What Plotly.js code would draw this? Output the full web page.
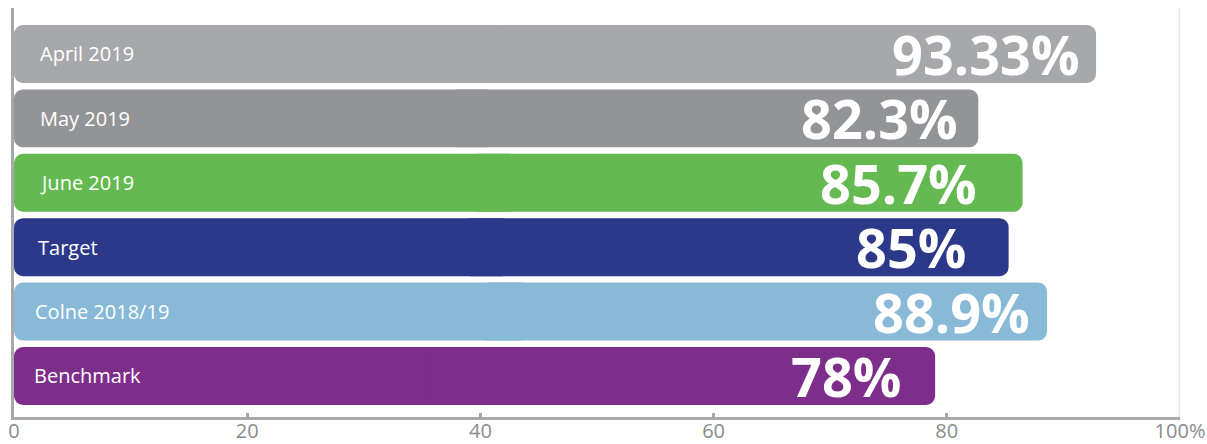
<!DOCTYPE html>
<html>
<head>
<meta charset="utf-8">
<script src="https://cdn.plot.ly/plotly-3.0.1.min.js"></script>
<style>
html,body{margin:0;padding:0;background:#fff;}
#chart{width:1207px;height:444px;}
</style>
</head>
<body>
<div id="chart"></div>
<script>
// ---- data ----
const categories = ["April 2019", "May 2019", "June 2019", "Target", "Colne 2018/19", "Benchmark"];
const barValues = [92.8, 82.7, 86.5, 85.3, 88.6, 79.0];        // bar lengths as drawn
const valueLabels = ["93.33%", "82.3%", "85.7%", "85%", "88.9%", "78%"];
const tickValues = [0, 20, 40, 60, 80, 100];
const tickLabels = ["0", "20", "40", "60", "80", "100%"];

// ---- styles ----
const barColors = ["#a7a8ab", "#939497", "#64b951", "#2c388a", "#88b9d7", "#7d2d8a"];
const valueShift = [-14, -18, -44, -41, -15, -32];
const nameShift = [24, 24, 24, 22, 19, 18];

// left half (rounded at 0) and right half (rounded at value) so all corners are rounded
const leftHalf = {
  type: "bar", orientation: "h",
  y: categories,
  base: barValues.map(v => v * 0.5),
  x: barValues.map(v => -v * 0.5),
  marker: {color: barColors, opacity: 1, line: {width: 0}},
  hoverinfo: "skip", showlegend: false
};
const rightHalf = {
  type: "bar", orientation: "h",
  y: categories,
  base: barValues.map(v => v * 0.45),
  x: barValues.map(v => v * 0.55),
  marker: {color: barColors, opacity: 1, line: {width: 0}},
  hoverinfo: "skip", showlegend: false
};

const annotations = [];
categories.forEach((c, i) => {
  annotations.push({
    x: 0, y: c, xref: "x", yref: "y", text: c, showarrow: false,
    xanchor: "left", yanchor: "middle", xshift: nameShift[i],
    font: {family: "Open Sans", size: 20, color: "#ffffff"}
  });
  annotations.push({
    x: barValues[i], y: c, xref: "x", yref: "y", text: valueLabels[i], showarrow: false,
    xanchor: "right", yanchor: "middle", xshift: valueShift[i], yshift: 0,
    font: {family: "Open Sans", size: 54, color: "#ffffff", weight: 700}
  });
});

const layout = {
  width: 1207, height: 444,
  margin: {l: 14, r: 27, t: 8, b: 27, pad: 0},
  paper_bgcolor: "#ffffff", plot_bgcolor: "#ffffff",
  barmode: "overlay",
  bargap: 0.1,
  barcornerradius: 9,
  xaxis: {
    range: [0, 100], fixedrange: true,
    tickvals: tickValues, ticktext: tickLabels,
    showgrid: false, zeroline: false,
    showline: true, linecolor: "#a7a8aa", linewidth: 3,
    ticks: "inside", ticklen: 4, tickwidth: 3, tickcolor: "#a7a8aa",
    ticklabelstandoff: -6,
    tickfont: {family: "Open Sans", size: 20, color: "#8a8b8d"}
  },
  yaxis: {
    type: "category", categoryarray: categories, categoryorder: "array",
    range: [5.637, -0.714], fixedrange: true,
    showticklabels: false, showgrid: false, zeroline: false, ticks: "",
    showline: true, linecolor: "#a7a8aa", linewidth: 3
  },
  shapes: [{
    type: "line", xref: "x", yref: "paper", x0: 100, x1: 100, y0: 0, y1: 1,
    line: {color: "#e6e6e6", width: 3}, layer: "below"
  }],
  annotations: annotations
};

Plotly.newPlot("chart", [leftHalf, rightHalf], layout, {displayModeBar: false, staticPlot: true});
</script>
</body>
</html>
